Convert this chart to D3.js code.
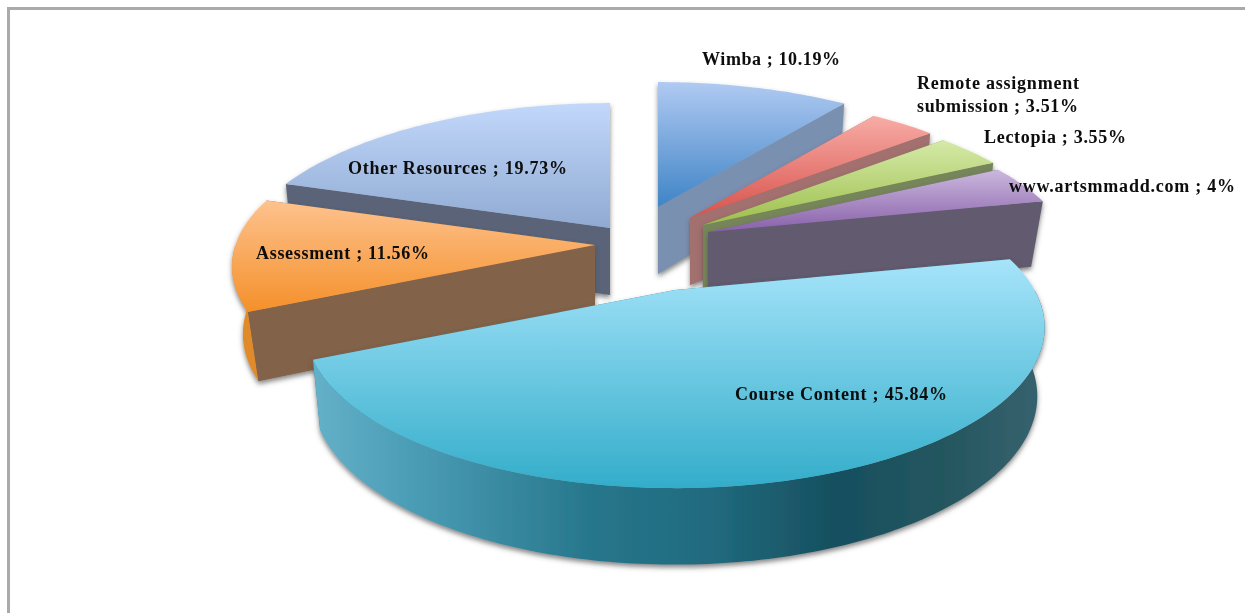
<!DOCTYPE html>
<html><head><meta charset="utf-8">
<script src="https://cdnjs.cloudflare.com/ajax/libs/d3/7.8.5/d3.min.js"></script>
<style>html,body{margin:0;padding:0;background:#fff;overflow:hidden}svg{display:block}
text{font-family:"Liberation Serif",serif;font-weight:bold;fill:#0a0a0a}</style>
</head><body><svg id="c" width="1245" height="613"></svg>
<script>
// ---- data ----
const categories = ["Wimba","Remote assignment submission","Lectopia","www.artsmmadd.com","Course Content","Assessment","Other Resources"];
const values = [10.19,3.51,3.55,4,45.84,11.56,19.73];
// ---- style ----
const topColors = [["#b0caf2","#3f84c6"],["#f8aca6","#d8524c"],["#d5eaa8","#9dbf4c"],["#cbb8de","#8860a9"],["#a6e4fa","#33adca"],["#fec28e","#f4902a"],["#c2d8fb","#90aad2"]];
const faceColors = ["#7a90b0","#a2706e","#76855a","#625a6e","#2f7f96","#82624a","#5a6478"];
const rimColors = ["#5f85b5","#b0605c","#8aa050","#705a88","#2f7f96","#e08a2a","#5a6478"];
const courseRimStops = [[0,"#66b2ca"],[0.15,"#4a9cb5"],[0.39,"#26768b"],[0.55,"#216a7e"],[0.72,"#164f5e"],[0.86,"#24565f"],[1,"#37626f"]];
// explode offsets from the pie centre
const explode = [[-17,-83],[15,-72],[28,-65],[33,-58],[0,0],[-80,-45],[-65,-62]];
const radiusScale = [1,0.985,0.985,0.985,0.985,0.985,1];
const perspective = [0.236,0.236,0.236,0.236,0.236,0.14,0.236];
const wallShrink = [0.98,0.98,0.98,0.965,0.98,0.97,0.98];
const paintOrder = [6,0,1,2,3,5,4];
const labelLines = [["Wimba ; 10.19%"],["Remote assignment","submission ; 3.51%"],["Lectopia ; 3.55%"],["www.artsmmadd.com ; 4%"],["Course Content ; 45.84%"],["Assessment ; 11.56%"],["Other Resources ; 19.73%"]];
const labelBoxes = [[[702,65,138]],[[917,89,162],[917,112,161]],[[984,143,142]],[[1009,192,226]],[[735,400,212]],[[256,259,173]],[[348,174,219]]];

// ---- projection of the pie plane ----
const cx = 675, cy = 290, R = 365, tilt = 0.423, depth = 67;
const svg = d3.select("#c");
const defs = svg.append("defs");

const pie = d3.pie().sort(null).value(d => d).startAngle(0).endAngle(2*Math.PI);
const arcs = pie(values);

function project(i, a, r){ // a clockwise from top, r in 0..1
  const X = r*Math.sin(a), Y = r*Math.cos(a);
  const s = 1/(1+perspective[i]*Y);
  return {x:R*X*s, y:-R*tilt*Y*s, s};
}
function pt(i,a,r){
  const p = project(i, a, r*radiusScale[i]);
  return [cx+explode[i][0]+p.x, cy+explode[i][1]+p.y];
}
function ptLow(i,a,r){
  const p = project(i, a, r*radiusScale[i]);
  return [cx+explode[i][0]+p.x*wallShrink[i], cy+explode[i][1]+p.y+depth*Math.sqrt(p.s)];
}
const line = d3.line();
const closed = pts => line(pts)+"Z";

const blur = defs.append("filter").attr("id","soft").attr("x","-10%").attr("y","-10%").attr("width","120%").attr("height","125%");
blur.append("feDropShadow").attr("dx",0).attr("dy",3).attr("stdDeviation",2.6).attr("flood-color","#444").attr("flood-opacity",0.65);
const tsoft = defs.append("filter").attr("id","tsoft");
tsoft.append("feGaussianBlur").attr("stdDeviation",0.45);
const msoft = defs.append("filter").attr("id","msoft");
msoft.append("feGaussianBlur").attr("stdDeviation",0.5);

topColors.forEach((c,i)=>{
  const g = defs.append("linearGradient").attr("id","top"+i).attr("x1",0).attr("y1",0).attr("x2",0).attr("y2",1);
  g.append("stop").attr("offset",0).attr("stop-color",c[0]);
  g.append("stop").attr("offset",1).attr("stop-color",c[1]);
});
const rg = defs.append("linearGradient").attr("id","courseRim").attr("gradientUnits","userSpaceOnUse")
  .attr("x1",305).attr("y1",0).attr("x2",1045).attr("y2",0);
courseRimStops.forEach(s=>rg.append("stop").attr("offset",s[0]).attr("stop-color",s[1]));

// frame
svg.append("path").attr("d","M8.5 613V8.5H1245").attr("fill","none").attr("stroke","#aaa").attr("stroke-width",3);

const chart = svg.append("g").attr("filter","url(#msoft)");
const slices = chart.selectAll("g.slice").data(paintOrder).join("g").attr("class","slice").attr("filter","url(#soft)");

const sampled = (a0,a1) => {
  const n = Math.max(8, Math.round((a1-a0)*60));
  return d3.range(n+1).map(k => a0+(a1-a0)*k/n);
};
slices.each(function(i){
  const d = arcs[i], g = d3.select(this);
  const a0 = d.startAngle, a1 = d.endAngle;
  const topApex = pt(i,0,0), lowApex = ptLow(i,0,0);
  [a0,a1].forEach(a=>{
    g.append("path").attr("fill",faceColors[i])
      .attr("d",closed([topApex,pt(i,a,1),ptLow(i,a,1),lowApex]));
  });
  // only the part of the rim that faces the viewer
  const f0 = Math.max(a0, Math.PI/2), f1 = Math.min(a1, 3*Math.PI/2);
  if(f1 > f0){
    const fa = sampled(f0,f1);
    g.append("path").attr("fill", i===4 ? "url(#courseRim)" : rimColors[i])
      .attr("d",closed(fa.map(a=>pt(i,a,1)).concat(fa.map(a=>ptLow(i,a,1)).reverse())));
  }
  if(i===5){ // the brown cut face sits in front of the orange rim
    g.append("path").attr("fill",faceColors[i])
      .attr("d",closed([topApex,pt(i,a0,1),ptLow(i,a0,1),lowApex]));
  }
  g.append("path").attr("fill","url(#top"+i+")")
    .attr("d",closed([topApex].concat(sampled(a0,a1).map(a=>pt(i,a,1)))));
});

// labels
const labels = svg.append("g").attr("filter","url(#tsoft)");
labelLines.forEach((lines,i)=>{
  lines.forEach((t,j)=>{
    const b = labelBoxes[i][j];
    labels.append("text").attr("x",b[0]).attr("y",b[1]).attr("font-size",18)
      .attr("textLength",b[2]).attr("lengthAdjust","spacing").text(t);
  });
});
</script></body></html>
